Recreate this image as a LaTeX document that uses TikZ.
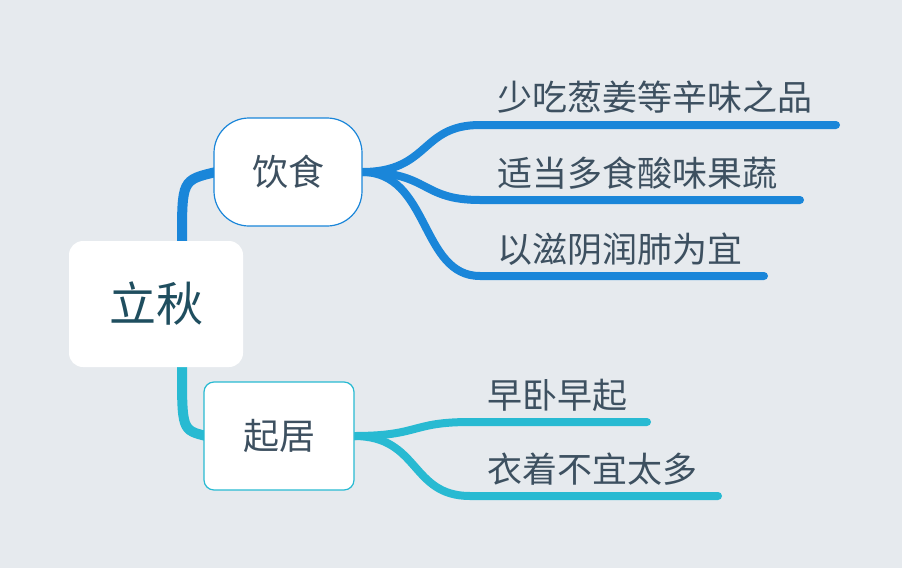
\documentclass[tikz,border=0pt]{standalone}
\usepackage{fontspec}
\setmainfont{Noto Sans CJK SC}
\begin{document}
\begin{tikzpicture}[x=1pt,y=-1pt,
  blue/.style={draw=c1,line width=8pt,line cap=round},
  cyan/.style={draw=c2,line width=8pt,line cap=round},
  lbl/.style={anchor=base west,text=c3,font=\fontsize{35}{35}\selectfont,inner sep=0pt}]
\definecolor{bg}{HTML}{E6EAEE}
\definecolor{c1}{HTML}{1A86D9}
\definecolor{c2}{HTML}{28BAD2}
\definecolor{c3}{HTML}{3D5060}
\definecolor{c4}{HTML}{1F4E5F}
\fill[bg] (0,0) rectangle (902,568);
\useasboundingbox (0,0) rectangle (902,568);
% connectors from root
\draw[c1,line width=10pt] (182,241) .. controls (182,180) .. (216,172);
\draw[c2,line width=10pt] (182,367) .. controls (182,430) .. (206,436);
\node[fill=white,rounded corners=14pt,minimum width=174pt,minimum height=126pt,text=c4,font=\fontsize{47}{47}\selectfont] (root) at (156,304) {立秋};
% branch 1
\coordinate (a1) at (480,125); \coordinate (a2) at (480,200); \coordinate (a3) at (480,276);
\coordinate (e1) at (836,125); \coordinate (e2) at (800,200); \coordinate (e3) at (764,276);
\draw[blue] (362,172) .. controls (430,172) and (420,125) .. (a1) -- (e1);
\draw[blue] (362,172) .. controls (430,172) and (420,200) .. (a2) -- (e2);
\draw[blue] (362,172) .. controls (430,172) and (420,276) .. (a3) -- (e3);
\node[draw=c1,line width=1.2pt,fill=white,rounded corners=35pt,minimum width=148pt,minimum height=108pt,text=c3,font=\fontsize{36}{36}\selectfont] (n1) at (288,172) {饮食};
\node[lbl] (t1) at (497,110) {少吃葱姜等辛味之品};
\node[lbl] (t2) at (497,186) {适当多食酸味果蔬};
\node[lbl] (t3) at (497,262) {以滋阴润肺为宜};
% branch 2
\coordinate (b1) at (470,422); \coordinate (b2) at (470,496);
\coordinate (f1) at (647,422); \coordinate (f2) at (718,496);
\draw[cyan] (354,436) .. controls (420,436) and (410,422) .. (b1) -- (f1);
\draw[cyan] (354,436) .. controls (420,436) and (410,496) .. (b2) -- (f2);
\node[draw=c2,line width=1.2pt,fill=white,rounded corners=10pt,minimum width=150pt,minimum height=108pt,text=c3,font=\fontsize{36}{36}\selectfont] (n2) at (279,436) {起居};
\node[lbl] (t4) at (487,408) {早卧早起};
\node[lbl] (t5) at (487,482) {衣着不宜太多};
\end{tikzpicture}
\end{document}
